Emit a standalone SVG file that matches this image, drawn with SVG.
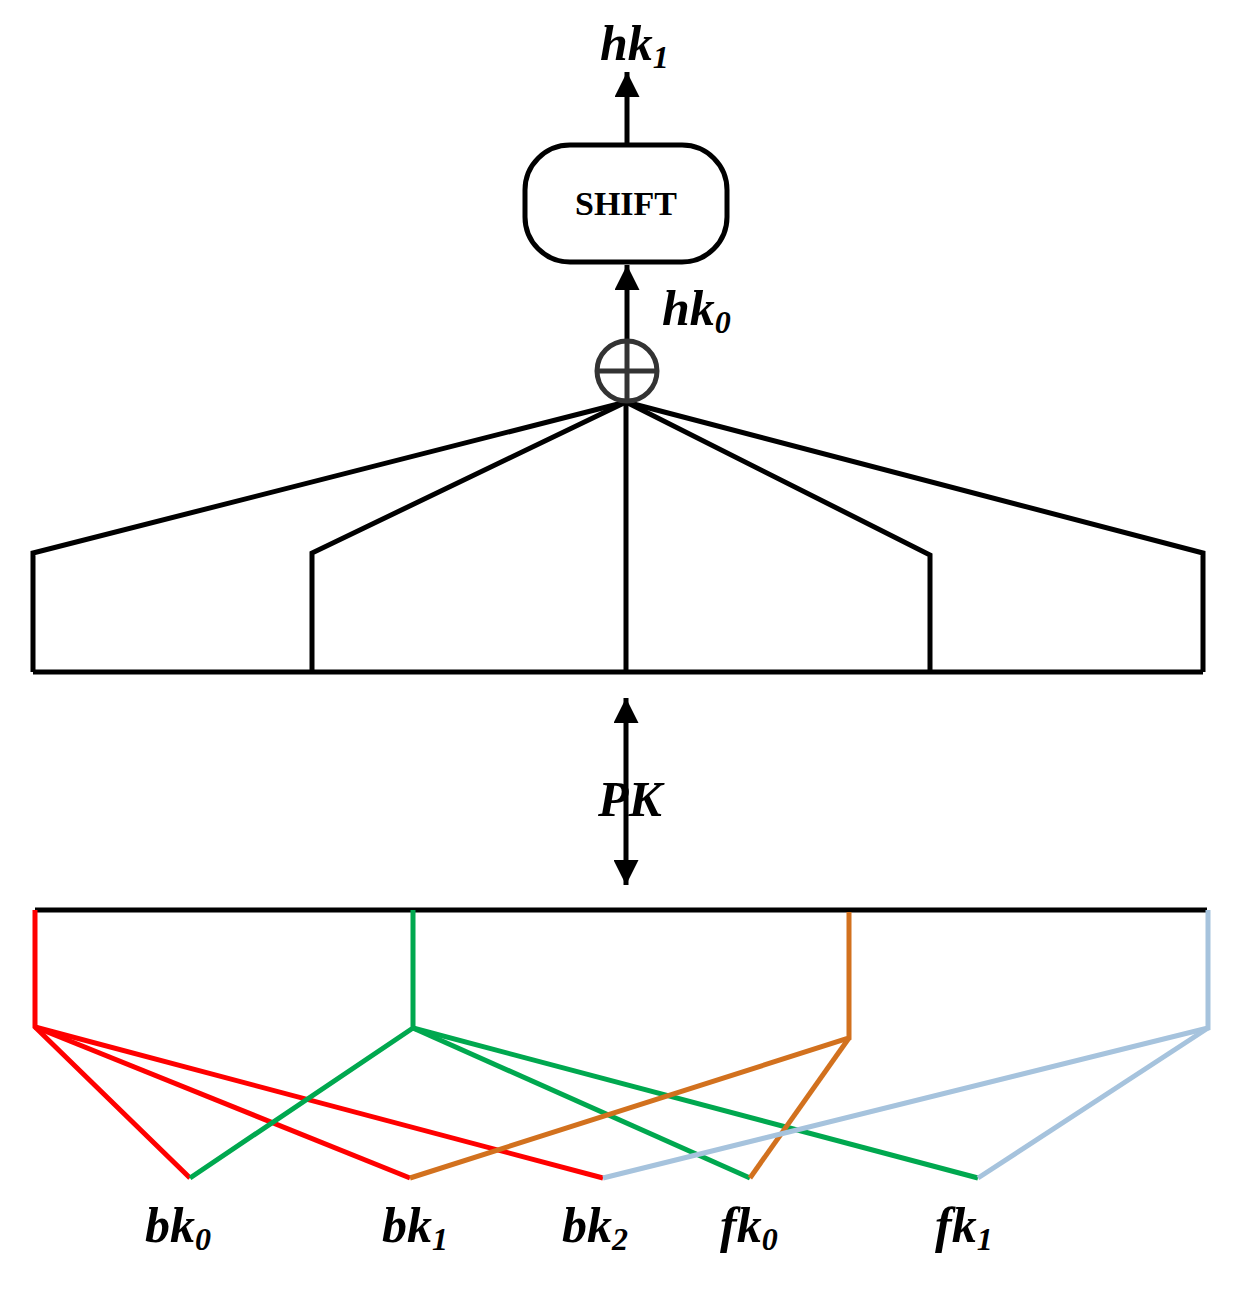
<svg xmlns="http://www.w3.org/2000/svg" width="1239" height="1294" viewBox="0 0 1239 1294">
<style>
.k{stroke:#000;stroke-width:5;fill:none}
.r{stroke:#ff0000;stroke-width:5;fill:none}
.g{stroke:#00a84f;stroke-width:5;fill:none}
.o{stroke:#d2711e;stroke-width:5;fill:none}
.b{stroke:#a6c3dd;stroke-width:5;fill:none}
.t{font-family:"Liberation Serif",serif;font-weight:bold;font-style:italic;font-size:50px;fill:#000}
.s{font-size:32px;font-style:italic}
</style>
<defs>
<marker id="a" viewBox="0 0 10 10" refX="10" refY="5" markerWidth="5" markerHeight="5" orient="auto-start-reverse" markerUnits="strokeWidth"><path d="M0,0L10,5L0,10z" fill="#000"/></marker>
</defs>
<rect width="1239" height="1294" fill="#fff"/>
<g id="connectors">
<line class="k" x1="627" y1="145" x2="627" y2="72" marker-end="url(#a)"/>
<line class="k" x1="627" y1="340" x2="627" y2="265" marker-end="url(#a)"/>
<polyline class="k" points="33,672 1203,672"/>
<polyline class="k" points="33,672 33,553 626,402"/>
<polyline class="k" points="312,672 312,553 626,402"/>
<polyline class="k" points="626,672 626,402"/>
<polyline class="k" points="930,672 930,555 626,402"/>
<polyline class="k" points="1203,672 1203,553 626,402"/>
<line class="k" x1="626" y1="698" x2="626" y2="885" marker-start="url(#a)" marker-end="url(#a)"/>
<line class="k" x1="35" y1="910" x2="1207" y2="910"/>
<polyline class="r" points="35,910 35,1027 190,1178"/>
<line class="r" x1="35" y1="1027" x2="410" y2="1178"/>
<line class="r" x1="35" y1="1027" x2="603" y2="1178"/>
<polyline class="g" points="413,910 413,1028 190,1178"/>
<line class="g" x1="413" y1="1028" x2="750" y2="1178"/>
<line class="g" x1="413" y1="1028" x2="978" y2="1178"/>
<polyline class="o" points="849,912 849,1038 410,1178"/>
<line class="o" x1="849" y1="1038" x2="750" y2="1178"/>
<polyline class="b" points="1208,910 1208,1028 603,1178"/>
<line class="b" x1="1208" y1="1028" x2="978" y2="1178"/>
</g>
<g id="shift">
<rect x="525" y="145" width="202" height="117" rx="45" fill="#fff" stroke="#000" stroke-width="5"/>
<text x="626" y="215" text-anchor="middle" font-family="Liberation Serif,serif" font-weight="bold" font-size="34">SHIFT</text>
</g>
<g id="sum">
<circle cx="627" cy="371" r="30" fill="#fff" stroke="#333" stroke-width="5"/>
<line x1="597" y1="371" x2="657" y2="371" stroke="#333" stroke-width="5"/>
<line x1="627" y1="341" x2="627" y2="401" stroke="#333" stroke-width="5"/>
</g>
<g id="labels">
<text class="t" x="600" y="60">hk<tspan class="s" dy="8">1</tspan></text>
<text class="t" x="662" y="325">hk<tspan class="s" dy="8">0</tspan></text>
<text class="t" x="598" y="816">PK</text>
<text class="t" x="145" y="1242">bk<tspan class="s" dy="8">0</tspan></text>
<text class="t" x="382" y="1242">bk<tspan class="s" dy="8">1</tspan></text>
<text class="t" x="562" y="1242">bk<tspan class="s" dy="8">2</tspan></text>
<text class="t" x="720" y="1242">fk<tspan class="s" dy="8">0</tspan></text>
<text class="t" x="935" y="1242">fk<tspan class="s" dy="8">1</tspan></text>
</g>
</svg>
